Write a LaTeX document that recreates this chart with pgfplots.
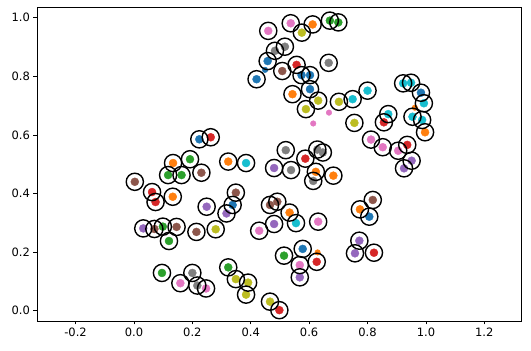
\documentclass[border=0pt]{standalone}
\usepackage{fontspec}
\setmainfont{DejaVu Sans}
\usepackage{pgfplots}
\usepackage{pgfplotstable}
\pgfplotsset{compat=1.18}

\definecolor{tabblue}{HTML}{1F77B4}
\definecolor{taborange}{HTML}{FF7F0E}
\definecolor{tabgreen}{HTML}{2CA02C}
\definecolor{tabred}{HTML}{D62728}
\definecolor{tabpurple}{HTML}{9467BD}
\definecolor{tabbrown}{HTML}{8C564B}
\definecolor{tabpink}{HTML}{E377C2}
\definecolor{tabgray}{HTML}{7F7F7F}
\definecolor{tabolive}{HTML}{BCBD22}
\definecolor{tabcyan}{HTML}{17BECF}

% circled points
\pgfplotstableread{
x y c
0.460 0.955 pink
0.537 0.981 pink
0.612 0.977 orange
0.671 0.990 green
0.700 0.984 green
0.575 0.949 olive
0.483 0.887 gray
0.517 0.901 gray
0.458 0.852 blue
0.508 0.818 brown
0.557 0.839 red
0.574 0.804 blue
0.603 0.804 blue
0.667 0.846 gray
0.420 0.790 blue
0.603 0.756 blue
0.543 0.739 orange
0.631 0.717 olive
0.589 0.688 olive
0.702 0.713 olive
0.749 0.722 cyan
0.755 0.641 olive
0.800 0.751 cyan
0.922 0.776 cyan
0.949 0.778 cyan
0.983 0.744 blue
0.993 0.708 cyan
0.954 0.662 cyan
0.987 0.651 cyan
0.997 0.609 orange
0.871 0.671 cyan
0.856 0.643 red
0.812 0.584 pink
0.852 0.558 pink
0.905 0.546 pink
0.936 0.566 red
0.951 0.512 purple
0.925 0.486 purple
0.520 0.548 gray
0.587 0.519 red
0.628 0.550 gray
0.647 0.540 gray
0.538 0.480 gray
0.623 0.474 orange
0.614 0.443 gray
0.683 0.461 orange
0.818 0.378 brown
0.774 0.346 orange
0.806 0.321 blue
0.772 0.239 purple
0.757 0.196 purple
0.822 0.198 red
0.224 0.585 blue
0.263 0.592 red
0.192 0.517 green
0.134 0.504 orange
0.117 0.463 green
0.163 0.463 green
0.231 0.471 brown
0.323 0.509 orange
0.384 0.504 cyan
0.480 0.487 purple
0.003 0.440 brown
0.062 0.405 red
0.074 0.371 red
0.133 0.389 orange
0.249 0.355 purple
0.349 0.403 brown
0.338 0.361 blue
0.317 0.332 purple
0.466 0.361 brown
0.491 0.372 brown
0.533 0.335 orange
0.480 0.296 purple
0.555 0.299 cyan
0.631 0.304 pink
0.429 0.273 pink
0.032 0.281 purple
0.070 0.279 brown
0.099 0.287 green
0.146 0.286 brown
0.120 0.238 green
0.214 0.269 brown
0.280 0.278 olive
0.096 0.129 green
0.200 0.129 gray
0.159 0.094 pink
0.217 0.086 gray
0.247 0.076 pink
0.323 0.148 green
0.349 0.108 olive
0.391 0.096 olive
0.384 0.055 olive
0.466 0.031 olive
0.498 0.002 red
0.514 0.188 green
0.578 0.211 blue
0.626 0.167 red
0.568 0.156 pink
0.568 0.114 purple
}\circled

% points without a circle
\pgfplotstableread{
x y c
0.449 0.822 blue
0.668 0.676 pink
0.614 0.639 pink
0.962 0.693 orange
0.629 0.199 orange
}\loose

\pgfplotsset{
  tabclasses/.style={
    scatter, only marks, mark=*,
    scatter src=explicit symbolic,
    scatter/classes={
      blue={draw=tabblue,fill=tabblue},
      orange={draw=taborange,fill=taborange},
      green={draw=tabgreen,fill=tabgreen},
      red={draw=tabred,fill=tabred},
      purple={draw=tabpurple,fill=tabpurple},
      brown={draw=tabbrown,fill=tabbrown},
      pink={draw=tabpink,fill=tabpink},
      gray={draw=tabgray,fill=tabgray},
      olive={draw=tabolive,fill=tabolive},
      cyan={draw=tabcyan,fill=tabcyan}
    }
  }
}

\begin{document}
\begin{tikzpicture}
\begin{axis}[
    scale only axis,
    width=484.7pt, height=314pt,
    xmin=-0.332, xmax=1.328,
    ymin=-0.035, ymax=1.0365,
    xtick={-0.2,0,0.2,0.4,0.6,0.8,1.0,1.2},
    ytick={0,0.2,0.4,0.6,0.8,1.0},
    tick align=outside,
    tick pos=left,
    major tick length=3.5pt,
    every tick/.style={black, line width=0.8pt},
    axis line style={black, line width=0.8pt},
    /pgf/number format/assume math mode=true,
    /pgf/number format/fixed,
    /pgf/number format/fixed zerofill,
    /pgf/number format/precision=1,
    tick label style={font=\fontsize{11.5}{13}\selectfont},
]
\addplot[tabclasses, mark size=4pt] table[x=x, y=y, meta=c] {\circled};
\addplot[tabclasses, mark size=2.8pt] table[x=x, y=y, meta=c] {\loose};
\addplot[only marks, mark=o, mark size=8.6pt, black, mark options={line width=1.4pt}]
    table[x=x, y=y] {\circled};
\end{axis}
\path[use as bounding box] (current axis.south west) ++(-37pt,-30pt)
    rectangle ([xshift=9.3pt,yshift=7pt]current axis.north east);
\end{tikzpicture}
\end{document}
